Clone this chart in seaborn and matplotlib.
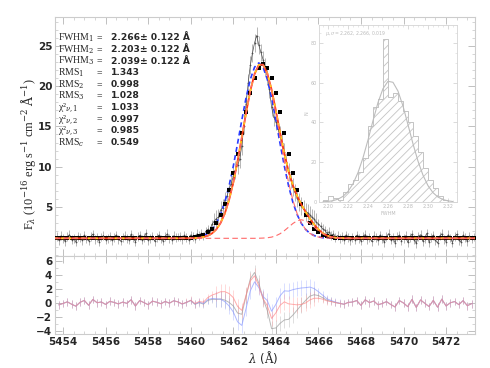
import numpy as np
import pandas as pd
import matplotlib
matplotlib.use("Agg")
import matplotlib.pyplot as plt
from matplotlib.ticker import MultipleLocator
import seaborn as sns

# observed spectrum, 0.1 A sampling starting at 5453.7
lam_start, lam_step = 5453.7, 0.1
flux_blue_side = [1.32, 0.85, 1.41, 1.05, 0.72, 1.28, 1.55, 0.94, 1.12, 0.66,
                  1.37, 1.21, 0.88, 1.48, 1.02, 0.79, 1.30, 1.62, 0.97, 1.15,
                  0.70, 1.26, 1.44, 0.91, 1.08, 1.35, 0.83, 1.19, 1.52, 0.98,
                  0.76, 1.24, 1.40, 1.06, 0.89, 1.58, 1.13, 0.68, 1.29, 1.46,
                  0.95, 1.17, 1.71, 0.87, 1.03, 1.38, 0.74, 1.22, 1.50, 1.01,
                  0.81, 1.33, 1.65, 1.09, 0.92, 1.43, 1.18, 1.27]
flux_line = [1.36, 0.98, 1.45, 1.22, 0.90, 1.52, 1.30, 1.05, 1.68, 1.40,
             1.75, 1.38, 1.96, 2.20, 2.05, 2.85, 3.20, 3.55, 3.70, 4.60,
             4.90, 5.80, 6.30, 7.20, 7.90, 8.80, 9.60, 10.20, 10.90, 12.60,
             15.10, 17.80, 20.40, 22.60, 24.10, 25.40, 26.30, 25.10, 24.20, 23.30,
             22.40, 21.20, 19.60, 17.40, 16.20, 15.60, 14.70, 13.90, 12.90, 11.80,
             10.60, 9.30, 8.40, 7.50, 6.80, 6.10, 5.60, 5.10, 4.80, 4.40,
             4.30, 4.00, 3.70, 3.50, 3.10, 2.90, 2.60, 2.30, 2.10, 1.75,
             1.90, 1.48, 1.62, 1.25, 1.44, 1.08, 1.36, 0.95, 1.52, 1.20,
             0.88]
flux_red_side = [1.25, 0.92, 1.46, 1.10, 0.78, 1.34, 1.57, 0.99, 1.16, 0.71,
                 1.40, 1.23, 0.86, 1.51, 1.04, 0.63, 1.31, 1.68, 0.90, 1.19,
                 0.55, 1.28, 1.47, 0.82, 1.11, 1.42, 0.59, 1.24, 1.63, 0.93,
                 0.48, 1.36, 1.55, 0.75, 1.07, 1.72, 0.61, 1.20, 1.49, 0.84,
                 0.52, 1.39, 1.66, 0.97, 0.69, 1.53, 1.14, 0.57, 1.32, 1.60,
                 0.88, 0.64, 1.45, 1.21, 0.73, 1.37, 1.02, 1.26]
err_cont, err_line = 0.55, 1.1

# fitted models, 0.2 A sampling; listed over 5459.6-5467.4, continuum elsewhere
cont = 1.1
fit_start, fit_step, fit_n = 5453.6, 0.2, 100
line_start = 5459.6
fit_blue = [1.11, 1.12, 1.14, 1.18, 1.27, 1.44, 1.72, 2.20, 2.95, 4.05,
            5.59, 7.60, 10.06, 12.86, 15.78, 18.56, 20.85, 22.37, 22.90, 22.37,
            20.85, 18.56, 15.78, 12.86, 10.06, 7.60, 5.59, 4.05, 2.95, 2.20,
            1.72, 1.44, 1.27, 1.18, 1.14, 1.12, 1.11, 1.10, 1.10, 1.10]
fit_black = [1.12, 1.13, 1.17, 1.23, 1.34, 1.53, 1.83, 2.31, 3.02, 4.02,
             5.37, 7.10, 9.21, 11.61, 14.20, 16.78, 19.14, 21.04, 22.27, 22.70,
             22.27, 21.04, 19.14, 16.78, 14.20, 11.61, 9.21, 7.10, 5.37, 4.02,
             3.02, 2.31, 1.83, 1.53, 1.34, 1.23, 1.17, 1.13, 1.12, 1.11]
comp_main = [1.10, 1.11, 1.11, 1.13, 1.17, 1.26, 1.42, 1.71, 2.20, 2.99,
             4.17, 5.84, 8.02, 10.67, 13.64, 16.68, 19.43, 21.52, 22.65, 22.65,
             21.52, 19.43, 16.68, 13.64, 10.67, 8.02, 5.84, 4.17, 2.99, 2.20,
             1.71, 1.42, 1.26, 1.17, 1.13, 1.11, 1.11, 1.10, 1.10, 1.10]
comp_wing = [1.10, 1.10, 1.10, 1.10, 1.10, 1.10, 1.10, 1.10, 1.10, 1.10,
             1.10, 1.10, 1.10, 1.10, 1.10, 1.10, 1.10, 1.10, 1.11, 1.13,
             1.17, 1.25, 1.41, 1.67, 2.05, 2.49, 2.94, 3.28, 3.40, 3.28,
             2.94, 2.49, 2.05, 1.67, 1.41, 1.25, 1.17, 1.13, 1.11, 1.10]

fit_names = [r'FWHM$_1$', r'FWHM$_2$', r'FWHM$_3$', r'RMS$_1$', r'RMS$_2$', r'RMS$_3$',
             '\u03c7\u00b2$_{\\nu,1}$', '\u03c7\u00b2$_{\\nu,2}$', '\u03c7\u00b2$_{\\nu,3}$', r'RMS$_c$']
fit_values = ['2.266\u00b1 0.122 \u00c5', '2.203\u00b1 0.122 \u00c5', '2.039\u00b1 0.122 \u00c5',
              '1.343', '0.998', '1.028', '1.033', '0.997', '0.985', '0.549']

# inset: distribution of FWHM
hist_edges = [2.195, 2.200, 2.205, 2.210, 2.215, 2.220, 2.225, 2.230, 2.235, 2.240,
              2.245, 2.250, 2.255, 2.260, 2.265, 2.270, 2.275, 2.280, 2.285, 2.290,
              2.295, 2.300, 2.305, 2.310, 2.315, 2.320, 2.325]
hist_counts = [1, 3, 2, 1, 5, 9, 11, 15, 22, 38, 48, 52, 82, 53, 55, 51, 46, 40, 33, 25,
               17, 11, 7, 3, 1, 0]
hist_gauss = [0.12, 0.30, 0.68, 1.44, 2.86, 5.30, 9.16, 14.78, 22.22, 31.2, 40.9, 50.0,
              57.0, 60.7, 60.2, 55.8, 48.3, 38.9, 29.3, 20.6, 13.5, 8.25, 4.71, 2.51,
              1.25, 0.58, 0.25]
hist_ticks = [2.20, 2.22, 2.24, 2.26, 2.28, 2.30, 2.32]

# ---------------------------------------------------------------------------
flux_obs = np.array(flux_blue_side + flux_line + flux_red_side)
lam_obs = np.round(lam_start + lam_step * np.arange(flux_obs.size), 1)
err_obs = np.where(flux_obs > 3.0, err_line, err_cont)

lam_fit = np.round(fit_start + fit_step * np.arange(fit_n), 1)
i0 = int(round((line_start - fit_start) / fit_step))


def on_grid(vals):
    arr = np.full(fit_n, cont)
    arr[i0:i0 + len(vals)] = vals
    return arr


m_blue = on_grid(fit_blue)
m_black = on_grid(fit_black)
m_main = on_grid(comp_main)
m_wing = on_grid(comp_wing)
m_total = m_main + m_wing - cont

sns.set_style("ticks")
plt.rcParams.update({
    "font.family": ["DejaVu Sans"],
    "mathtext.fontset": "dejavuserif",
    "hatch.color": "#c8c8c8",
    "hatch.linewidth": 0.6,
    "xtick.direction": "in", "ytick.direction": "in",
    "xtick.top": True, "ytick.right": True,
})

fig = plt.figure(figsize=(4.9, 3.68), dpi=100)
ax = fig.add_axes([0.1122, 0.3043, 0.8572, 0.6495])
axr = fig.add_axes([0.1122, 0.0924, 0.8572, 0.2119])

# --- spectrum + fits
ax.errorbar(lam_obs, flux_obs, yerr=err_obs, fmt='none', ecolor='0.5', elinewidth=0.5, alpha=0.8, zorder=1)
sns.lineplot(x=lam_obs, y=flux_obs, ax=ax, color='0.3', lw=0.5, marker='.', ms=2.5, mec='none', zorder=2)
sns.lineplot(x=lam_fit, y=m_blue, ax=ax, color='#2a3cff', ls=(0, (3, 2)), lw=1.2, zorder=3)
sns.scatterplot(x=lam_fit, y=m_black, ax=ax, marker='s', s=6.5, color='black', linewidth=0, zorder=4)
sns.lineplot(x=lam_fit, y=m_total, ax=ax, color='#ff3a1a', lw=1.3, zorder=5)
sns.lineplot(x=lam_fit, y=m_total, ax=ax, color='#ffd21a', ls=(0, (2, 2)), lw=1.2, zorder=6)
sns.lineplot(x=lam_fit, y=m_main, ax=ax, color='#ff6a6a', ls=(0, (5, 3)), lw=0.8, zorder=7)
sns.lineplot(x=lam_fit, y=m_wing, ax=ax, color='#ff6a6a', ls=(0, (5, 3)), lw=0.8, zorder=7)

ax.set_xlim(5453.62, 5473.36)
ax.set_ylim(-1.1, 28.6)
ax.set_yticks([5, 10, 15, 20, 25], labels=['5', '10', '15', '20', '25'], fontweight='bold', fontsize=7.5)
ax.yaxis.set_minor_locator(MultipleLocator(1))
ax.xaxis.set_major_locator(MultipleLocator(2))
ax.xaxis.set_minor_locator(MultipleLocator(0.5))
ax.tick_params(labelbottom=False)

for k, (name, val) in enumerate(zip(fit_names, fit_values)):
    y = 1 - (38 + 11.6 * k) / 368
    fig.text(58 / 490, y, name, family='Liberation Serif', fontsize=7, va='center')
    fig.text(97 / 490, y, '=', family='Liberation Serif', fontsize=7, va='center')
    fig.text(111 / 490, y, val, fontsize=6.6, fontweight='bold', va='center')

fig.text(28 / 490, 1 - 154 / 368,
         r'F$_\lambda$ (10$^{-16}$ erg s$^{-1}$ cm$^{-2}$ $\mathrm{\AA}^{-1}$)',
         rotation=90, ha='center', va='center', family='Liberation Serif', fontsize=8.8)

# --- residuals
obs_s = pd.Series(flux_obs, index=lam_obs)
err_s = pd.Series(err_obs, index=lam_obs)
for model, color in [(m_black, '#9c9c9c'), (m_blue, '#8c9cff'), (m_total, '#ff8a8a')]:
    res = (obs_s - pd.Series(model, index=lam_fit)).dropna()
    axr.errorbar(res.index, res.values, yerr=err_s.reindex(res.index).values, fmt='none',
                 ecolor=color, elinewidth=0.5, alpha=0.45, zorder=1)
    sns.lineplot(x=res.index.values, y=res.values, ax=axr, color=color, lw=0.7, alpha=0.7, zorder=2)

axr.set_xlim(5453.62, 5473.36)
axr.set_ylim(-4.4, 6.7)
axr.set_yticks([-4, -2, 0, 2, 4, 6], labels=['\u22124', '\u22122', '0', '2', '4', '6'],
               fontweight='bold', fontsize=7.5)
axr.yaxis.set_minor_locator(MultipleLocator(1))
xt = list(range(5454, 5473, 2))
axr.set_xticks(xt, labels=[str(v) for v in xt], fontweight='bold', fontsize=7.5)
axr.xaxis.set_minor_locator(MultipleLocator(0.5))
fig.text(263 / 490, 1 - 358 / 368, r'$\lambda$ ($\mathrm{\AA}$)', ha='center', va='center', fontsize=8.5)

for a in (ax, axr):
    a.set_xlabel('')
    a.set_ylabel('')
    for sp in a.spines.values():
        sp.set_color('#cccccc')
        sp.set_linewidth(0.8)
    a.tick_params(which='major', length=5, width=0.6, color='#b5b5b5', pad=2)
    a.tick_params(which='minor', length=2.5, width=0.5, color='#c5c5c5')

# --- inset histogram
axin = fig.add_axes([0.651, 0.451, 0.2816, 0.481])
axin.set_facecolor('white')
hist_df = pd.DataFrame({'fwhm': [e + 0.0025 for e in hist_edges[:-1]], 'n': hist_counts})
sns.histplot(data=hist_df, x='fwhm', weights='n', bins=hist_edges, element='step', fill=True,
             facecolor='white', edgecolor='#c4c4c4', hatch='////', linewidth=0.7, ax=axin)
sns.lineplot(x=hist_edges, y=hist_gauss, ax=axin, color='#bdbdbd', lw=0.8)
axin.set_xlim(2.191, 2.329)
axin.set_ylim(0, 89)
axin.set_xticks(hist_ticks, labels=[f'{t:.2f}' for t in hist_ticks], fontsize=3.5, color='#bbbbbb')
axin.set_yticks([0, 20, 40, 60, 80], labels=['0', '20', '40', '60', '80'], fontsize=3.5, color='#bbbbbb')
axin.xaxis.set_minor_locator(MultipleLocator(0.005))
axin.yaxis.set_minor_locator(MultipleLocator(5))
axin.set_xlabel('FWHM', fontsize=3.5, color='#bbbbbb', labelpad=1)
axin.set_ylabel('N', fontsize=3.5, color='#bbbbbb', labelpad=1)
axin.tick_params(which='major', length=3, width=0.5, color='#cccccc', pad=1.5)
axin.tick_params(which='minor', length=1.5, width=0.4, color='#d5d5d5')
for sp in axin.spines.values():
    sp.set_color('#d5d5d5')
    sp.set_linewidth(0.6)
axin.text(0.04, 0.975, r'$\mu$, $\sigma$= 2.262, 2.266, 0.019', transform=axin.transAxes,
          fontsize=3.3, color='#bbbbbb', va='top')

fig.savefig('out.png', dpi=100)
